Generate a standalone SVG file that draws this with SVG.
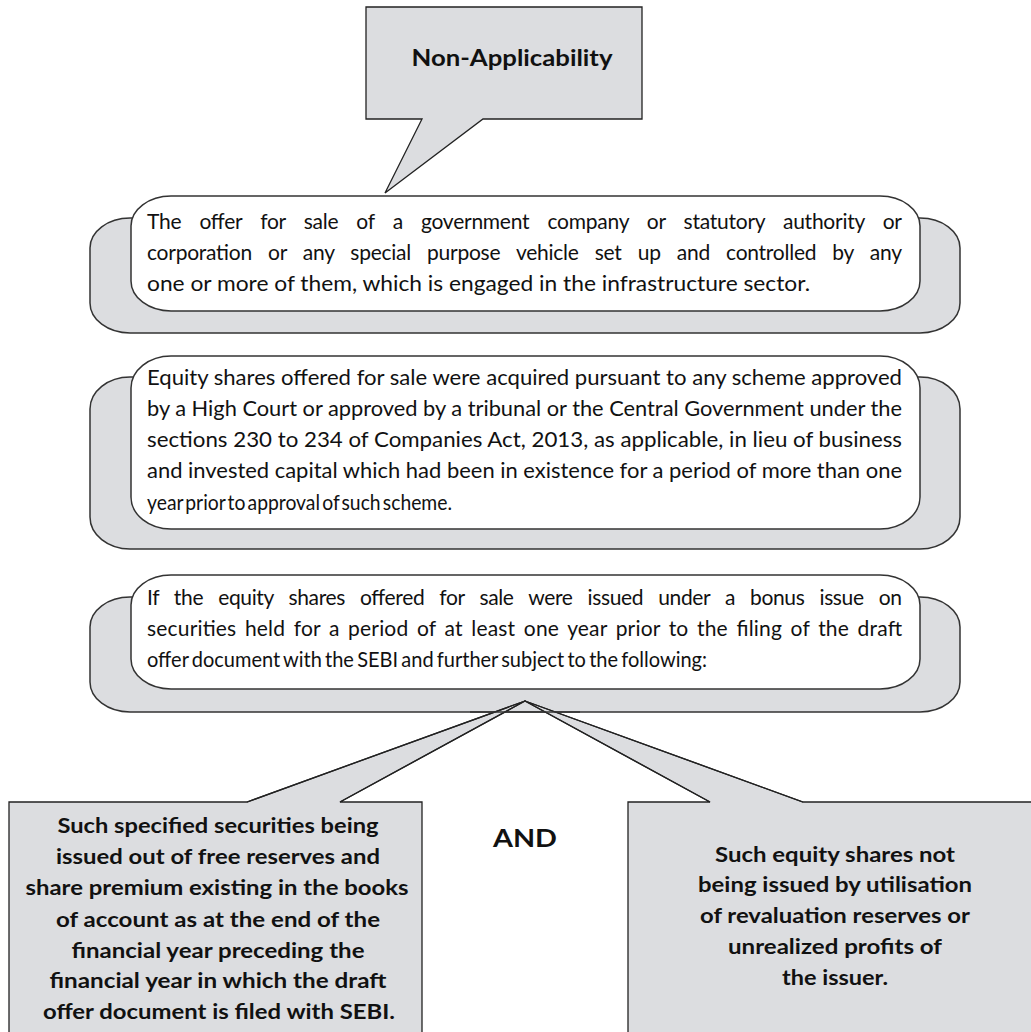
<svg xmlns="http://www.w3.org/2000/svg" width="1031" height="1032" viewBox="0 0 1031 1032">
<style>
.grey{fill:#dcdde0;stroke:#333;stroke-width:1.5}
.white{fill:#fff;stroke:#333;stroke-width:1.5}
.call{fill:#dcdde0;stroke:#222;stroke-width:1.3;stroke-linejoin:miter}
.t{font-family:Lato,"Liberation Sans",sans-serif;font-size:21px;fill:#111}
.b{font-family:Lato,"Liberation Sans",sans-serif;font-size:20px;font-weight:bold;fill:#111;text-anchor:middle}
</style>
<rect width="1031" height="1032" fill="#fff"/>
<g id="header">
<polygon class="call" points="366,7 642,7 642,119 483,119 385,193 422,119 366,119"/>
<text class="b" x="512" y="66" style="font-size:22px" textLength="201" lengthAdjust="spacingAndGlyphs">Non-Applicability</text>
</g>
<g id="box1">
<rect class="grey" x="90" y="218" width="870" height="115" rx="40" ry="30"/>
<rect class="white" x="131" y="196" width="789" height="115" rx="40" ry="30"/>
<text class="t" x="147" y="229" word-spacing="13" textLength="755" lengthAdjust="spacing">The offer for sale of a government company or statutory authority or</text>
<text class="t" x="147" y="260" word-spacing="11" textLength="755" lengthAdjust="spacing">corporation or any special purpose vehicle set up and controlled by any</text>
<text class="t" x="147" y="291" textLength="663" lengthAdjust="spacingAndGlyphs">one or more of them, which is engaged in the infrastructure sector.</text>
</g>
<g id="box2">
<rect class="grey" x="90" y="377" width="870" height="172" rx="40" ry="32"/>
<rect class="white" x="131" y="356" width="789" height="173" rx="40" ry="32"/>
<text class="t" x="147" y="385" textLength="755" lengthAdjust="spacingAndGlyphs">Equity shares offered for sale were acquired pursuant to any scheme approved</text>
<text class="t" x="147" y="416" textLength="755" lengthAdjust="spacingAndGlyphs">by a High Court or approved by a tribunal or the Central Government under the</text>
<text class="t" x="147" y="447" textLength="755" lengthAdjust="spacingAndGlyphs">sections 230 to 234 of Companies Act, 2013, as applicable, in lieu of business</text>
<text class="t" x="147" y="478" textLength="755" lengthAdjust="spacingAndGlyphs">and invested capital which had been in existence for a period of more than one</text>
<text class="t" x="147" y="510" word-spacing="-3" textLength="305" lengthAdjust="spacingAndGlyphs">year prior to approval of such scheme.</text>
</g>
<g id="box3">
<rect class="grey" x="90" y="597" width="870" height="115" rx="40" ry="30"/>
<rect class="white" x="131" y="575" width="789" height="114" rx="40" ry="30"/>
<text class="t" x="147" y="605" word-spacing="10" textLength="755" lengthAdjust="spacing">If the equity shares offered for sale were issued under a bonus issue on</text>
<text class="t" x="147" y="636" word-spacing="3" textLength="755" lengthAdjust="spacing">securities held for a period of at least one year prior to the filing of the draft</text>
<text class="t" x="147" y="667" word-spacing="-2" textLength="560" lengthAdjust="spacingAndGlyphs">offer document with the SEBI and further subject to the following:</text>
</g>
<g id="left-condition">
<polygon class="call" points="9,802 247,802 525,701 340,802 422,802 422,1045 9,1045"/>
<text class="b" x="218" y="833" textLength="321" lengthAdjust="spacingAndGlyphs">Such specified securities being</text>
<text class="b" x="218" y="864" textLength="324" lengthAdjust="spacingAndGlyphs">issued out of free reserves and</text>
<text class="b" x="217" y="895" textLength="383" lengthAdjust="spacingAndGlyphs">share premium existing in the books</text>
<text class="b" x="218" y="927" textLength="324" lengthAdjust="spacingAndGlyphs">of account as at the end of the</text>
<text class="b" x="218" y="958" textLength="293" lengthAdjust="spacingAndGlyphs">financial year preceding the</text>
<text class="b" x="218" y="988" textLength="337" lengthAdjust="spacingAndGlyphs">financial year in which the draft</text>
<text class="b" x="219" y="1019" textLength="352" lengthAdjust="spacingAndGlyphs">offer document is filed with SEBI.</text>
</g>
<g id="and">
<text class="b" x="525" y="847" style="font-size:24px" textLength="64" lengthAdjust="spacingAndGlyphs">AND</text>
</g>
<g id="right-condition">
<polygon class="call" points="628,802 710,802 525,701 803,802 1045,802 1045,1045 628,1045"/>
<text class="b" x="835" y="862" textLength="240" lengthAdjust="spacingAndGlyphs">Such equity shares not</text>
<text class="b" x="835" y="892" textLength="274" lengthAdjust="spacingAndGlyphs">being issued by utilisation</text>
<text class="b" x="835" y="923" textLength="270" lengthAdjust="spacingAndGlyphs">of revaluation reserves or</text>
<text class="b" x="835" y="954" textLength="214" lengthAdjust="spacingAndGlyphs">unrealized profits of</text>
<text class="b" x="835" y="985" textLength="106" lengthAdjust="spacingAndGlyphs">the issuer.</text>
</g>
<g id="connectors" fill="none" stroke="#222" stroke-width="1.3">
<polyline points="247,802 525,701 340,802"/>
<polyline points="710,802 525,701 803,802"/>
<line x1="470" y1="712" x2="580" y2="712" stroke="#333" stroke-width="1.5"/>
</g>
</svg>
